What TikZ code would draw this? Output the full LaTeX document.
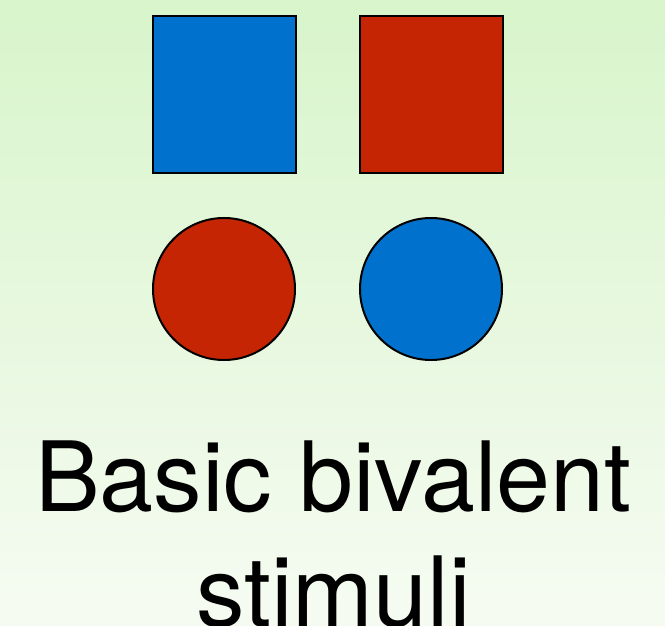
\documentclass[tikz,border=0pt]{standalone}
\usepackage{fontspec}
\setmainfont{TeX Gyre Heros}
\definecolor{bgtop}{RGB}{216,245,203}
\definecolor{bgbot}{RGB}{246,251,242}
\definecolor{stimblue}{RGB}{0,114,206}
\definecolor{stimred}{RGB}{198,37,3}
\tikzset{
  stimshape/.style={draw=black, line width=2pt},
  bigtext/.style={font=\fontsize{97}{116}\selectfont, anchor=base, inner sep=0pt, text=black}
}
\begin{document}
\begin{tikzpicture}[x=1pt,y=1pt]
\useasboundingbox (0,0) rectangle (665,625);
\shade[top color=bgtop, bottom color=bgbot] (0,0) rectangle (665,625);
% squares
\draw[stimshape, fill=stimblue] (153,452) rectangle (296,609);
\draw[stimshape, fill=stimred] (360,452) rectangle (503,609);
% circles
\draw[stimshape, fill=stimred] (224,336) circle (71);
\draw[stimshape, fill=stimblue] (431,336) circle (71);
% text
\node[bigtext] (l1) at (333.5,113.5) {Basic bivalent};
\node[bigtext] (l2) at (333.5,-1) {stimuli};
\end{tikzpicture}
\end{document}
